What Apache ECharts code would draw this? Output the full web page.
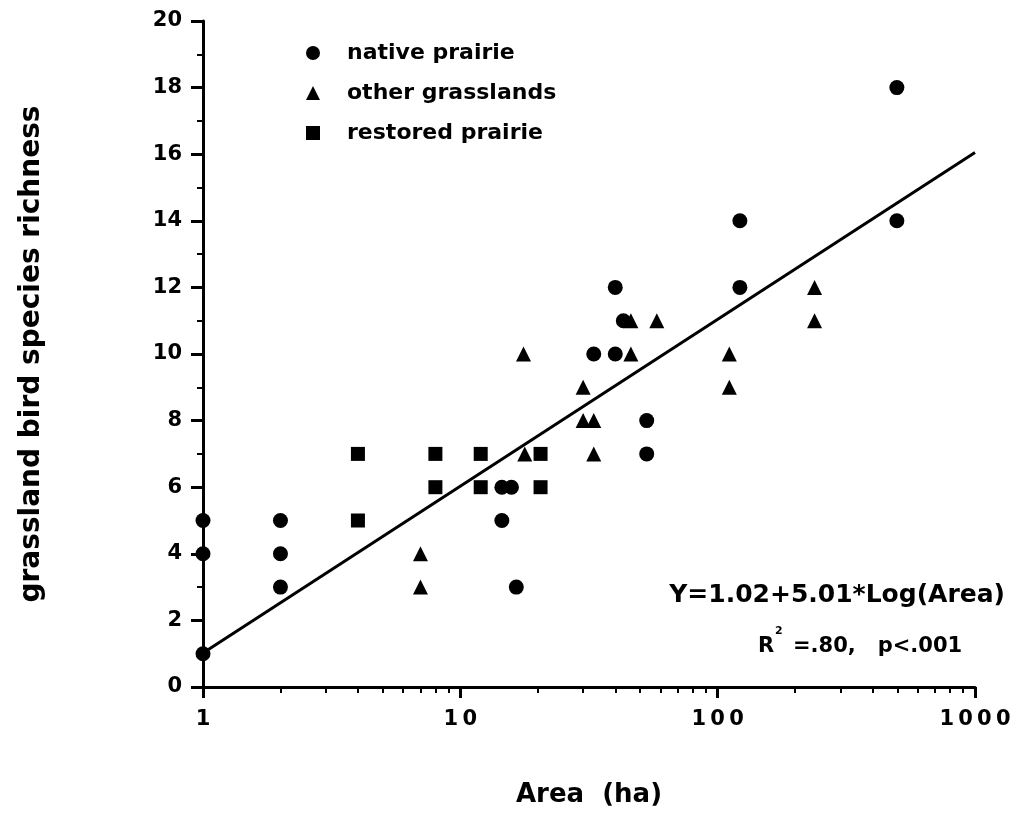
<!DOCTYPE html>
<html>
<head>
<meta charset="utf-8">
<script src="https://cdn.jsdelivr.net/npm/echarts@6/dist/echarts.min.js"></script>
<style>
  html, body { margin: 0; padding: 0; background: #fff; }
  #chart { width: 1016px; height: 827px; }
</style>
</head>
<body>
<div id="chart"></div>
<script>
// area (ha) and species counts
var nativeX = [1, 1, 1, 2, 2, 2, 14.5, 14.5, 15.8, 16.5, 33, 40, 40, 43, 53, 53, 122, 122, 497, 497]
var nativeY = [5, 4, 1, 5, 4, 3, 5, 6, 6, 3, 10, 10, 12, 11, 8, 7, 12, 14, 18, 14]
var otherX = [7, 7, 17.6, 17.8, 30, 30, 33, 33, 46, 46, 58, 111, 111, 238, 238]
var otherY = [4, 3, 10, 7, 9, 8, 8, 7, 11, 10, 11, 10, 9, 12, 11]
var restoredX = [4, 4, 8, 8, 12, 12, 20.5, 20.5]
var restoredY = [7, 5, 7, 6, 7, 6, 7, 6]
// regression line end points
var fitX = [1, 1000]
var fitY = [1.02, 16.05]
// minor ticks of the log axis
var minorTicks = [2, 3, 4, 5, 6, 7, 8, 9, 20, 30, 40, 50, 60, 70, 80, 90, 200, 300, 400, 500, 600, 700, 800, 900]

var FONT = 'DejaVu Sans'

function pairs(xs, ys) {
  return xs.map(function(x, i) { return [x, ys[i]] })
}
function spaced(s) {
  return String(s).split('').join('\u2009')
}

var chart = echarts.init(document.getElementById('chart'))
var gridBox = { left: 203, right: 41, top: 21, bottom: 140, outerBoundsMode: 'none' }
var markStyle = { color: '#000', opacity: 1 }

chart.setOption({
  backgroundColor: '#fff',
  animation: false,
  textStyle: { fontFamily: FONT, color: '#000' },
  grid: [gridBox, gridBox],
  legend: {
    orient: 'vertical',
    left: 301,
    top: 37,
    itemWidth: 14,
    itemHeight: 14,
    itemGap: 18,
    data: [
      { name: 'native prairie', icon: 'circle' },
      { name: 'other grasslands', icon: 'triangle' },
      { name: 'restored prairie', icon: 'rect' }
    ],
    itemStyle: { color: '#000', opacity: 1 },
    textStyle: {
      fontFamily: FONT,
      fontWeight: 'bold',
      fontSize: 22,
      color: '#000',
      padding: [0, 0, 0, 22]
    }
  },
  xAxis: [{
    type: 'log',
    logBase: 10,
    min: 1,
    max: 1000,
    gridIndex: 0,
    name: 'Area  (ha)',
    nameLocation: 'middle',
    nameGap: 95,
    nameTextStyle: { fontFamily: FONT, fontWeight: 'bold', fontSize: 26, color: '#000' },
    axisLine: { lineStyle: { color: '#000', width: 3 } },
    axisTick: { length: 11, lineStyle: { color: '#000', width: 3 } },
    axisLabel: {
      margin: 22,
      fontFamily: FONT,
      fontWeight: 'bold',
      fontSize: 21,
      color: '#000',
      formatter: function(v) { return spaced(v) }
    },
    splitLine: { show: false }
  }, {
    // only carries the short ticks between decades
    type: 'log',
    logBase: 10,
    min: 1,
    max: 1000,
    gridIndex: 1,
    axisLine: { show: false },
    axisTick: { length: 6, customValues: minorTicks, lineStyle: { color: '#000', width: 2 } },
    axisLabel: { show: false },
    splitLine: { show: false }
  }],
  yAxis: [{
    type: 'value',
    min: 0,
    max: 20,
    interval: 2,
    gridIndex: 0,
    name: 'grassland bird species richness',
    nameLocation: 'middle',
    nameRotate: 90,
    nameGap: 157,
    nameTextStyle: { fontFamily: FONT, fontWeight: 'bold', fontSize: 28, color: '#000' },
    axisLine: { show: true, lineStyle: { color: '#000', width: 3 } },
    axisTick: { show: true, length: 12, lineStyle: { color: '#000', width: 3 } },
    minorTick: { show: true, splitNumber: 2, length: 6, lineStyle: { color: '#000', width: 2 } },
    axisLabel: { margin: 21, fontFamily: FONT, fontWeight: 'bold', fontSize: 21, color: '#000' },
    splitLine: { show: false }
  }, {
    type: 'value',
    min: 0,
    max: 20,
    gridIndex: 1,
    show: false
  }],
  series: [{
    name: 'fit',
    type: 'line',
    data: pairs(fitX, fitY),
    showSymbol: false,
    symbol: 'none',
    lineStyle: { color: '#000', width: 3 },
    silent: true,
    z: 1
  }, {
    name: 'native prairie',
    type: 'scatter',
    symbol: 'circle',
    symbolSize: 15,
    clip: false,
    itemStyle: markStyle,
    data: pairs(nativeX, nativeY),
    z: 3
  }, {
    name: 'other grasslands',
    type: 'scatter',
    symbol: 'triangle',
    symbolSize: 15,
    clip: false,
    itemStyle: markStyle,
    data: pairs(otherX, otherY),
    z: 4
  }, {
    name: 'restored prairie',
    type: 'scatter',
    symbol: 'rect',
    symbolSize: 14,
    clip: false,
    itemStyle: markStyle,
    data: pairs(restoredX, restoredY),
    z: 3
  }],
  graphic: [{
    type: 'text',
    right: 11,
    top: 583,
    style: {
      text: 'Y=1.02+5.01*Log(Area)',
      font: 'bold 25px "DejaVu Sans"',
      fill: '#000'
    }
  }, {
    type: 'text',
    left: 758,
    top: 636,
    style: { text: 'R', font: 'bold 21px "DejaVu Sans"', fill: '#000' }
  }, {
    type: 'text',
    left: 775,
    top: 626,
    style: { text: '2', font: 'bold 11px "DejaVu Sans"', fill: '#000' }
  }, {
    type: 'text',
    left: 793,
    top: 636,
    style: { text: '=.80,   p<.001', font: 'bold 21px "DejaVu Sans"', fill: '#000' }
  }]
})
</script>
</body>
</html>
